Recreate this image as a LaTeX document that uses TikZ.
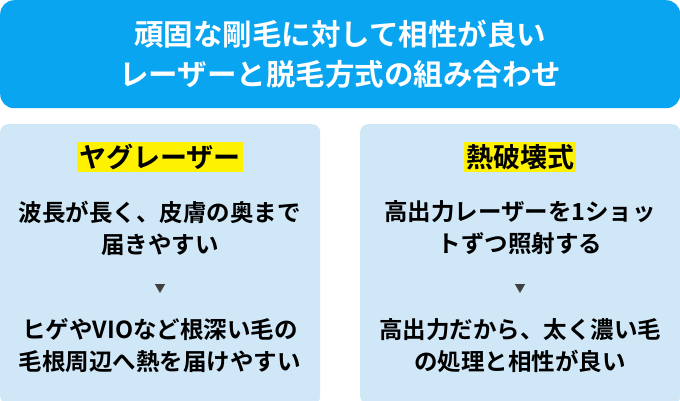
\documentclass[tikz,border=0pt]{standalone}
\usepackage{fontspec}
\newfontfamily\jp{Noto Sans CJK JP}[BoldFont={* Bold}]
\begin{document}
\begin{tikzpicture}[x=1pt,y=-1pt,
  panel/.style={fill=panelc,rounded corners=8pt,draw=none},
  txt/.style={font=\jp\bfseries\fontsize{23.5}{32}\selectfont,align=center,text=black},
  ttl/.style={font=\jp\bfseries\fontsize{27}{30}\selectfont,fill=yellow,inner sep=2pt,text=black},
  tri/.style={fill=black!75,draw=none,isosceles triangle,shape border rotate=-90,minimum size=9pt,inner sep=0pt,isosceles triangle apex angle=60}]
\usetikzlibrary{shapes.geometric}
\definecolor{head}{HTML}{0AA5F0}
\definecolor{panelc}{HTML}{CFE7F6}
\useasboundingbox (0,0) rectangle (680,400);
\fill[white] (0,0) rectangle (680,400);
\node[fill=head,rounded corners=14pt,minimum width=680pt,minimum height=108pt,inner sep=0pt,anchor=north west,
  font=\jp\bfseries\fontsize{29.5}{40}\selectfont,text=white,align=center] (h) at (0,0) {頑固な剛毛に対して相性が良い\\レーザーと脱毛方式の組み合わせ};
\node[panel,minimum width=320pt,minimum height=280pt,anchor=north west] (L) at (0,124) {};
\node[panel,minimum width=320pt,minimum height=280pt,anchor=north west] (R) at (360,124) {};
\node[ttl] (lt) at (160,157) {ヤグレーザー};
\node[ttl] (rt) at (520,157) {熱破壊式};
\node[txt] (l1) at (160,228) {波長が長く、皮膚の奥まで\\届きやすい};
\node[tri] (lv) at (160,287) {};
\node[txt] (l2) at (160,346) {ヒゲやVIOなど根深い毛の\\毛根周辺へ熱を届けやすい};
\node[txt] (r1) at (520,228) {高出力レーザーを1ショッ\\トずつ照射する};
\node[tri] (rv) at (520,287) {};
\node[txt] (r2) at (520,346) {高出力だから、太く濃い毛\\の処理と相性が良い};
\end{tikzpicture}
\end{document}
